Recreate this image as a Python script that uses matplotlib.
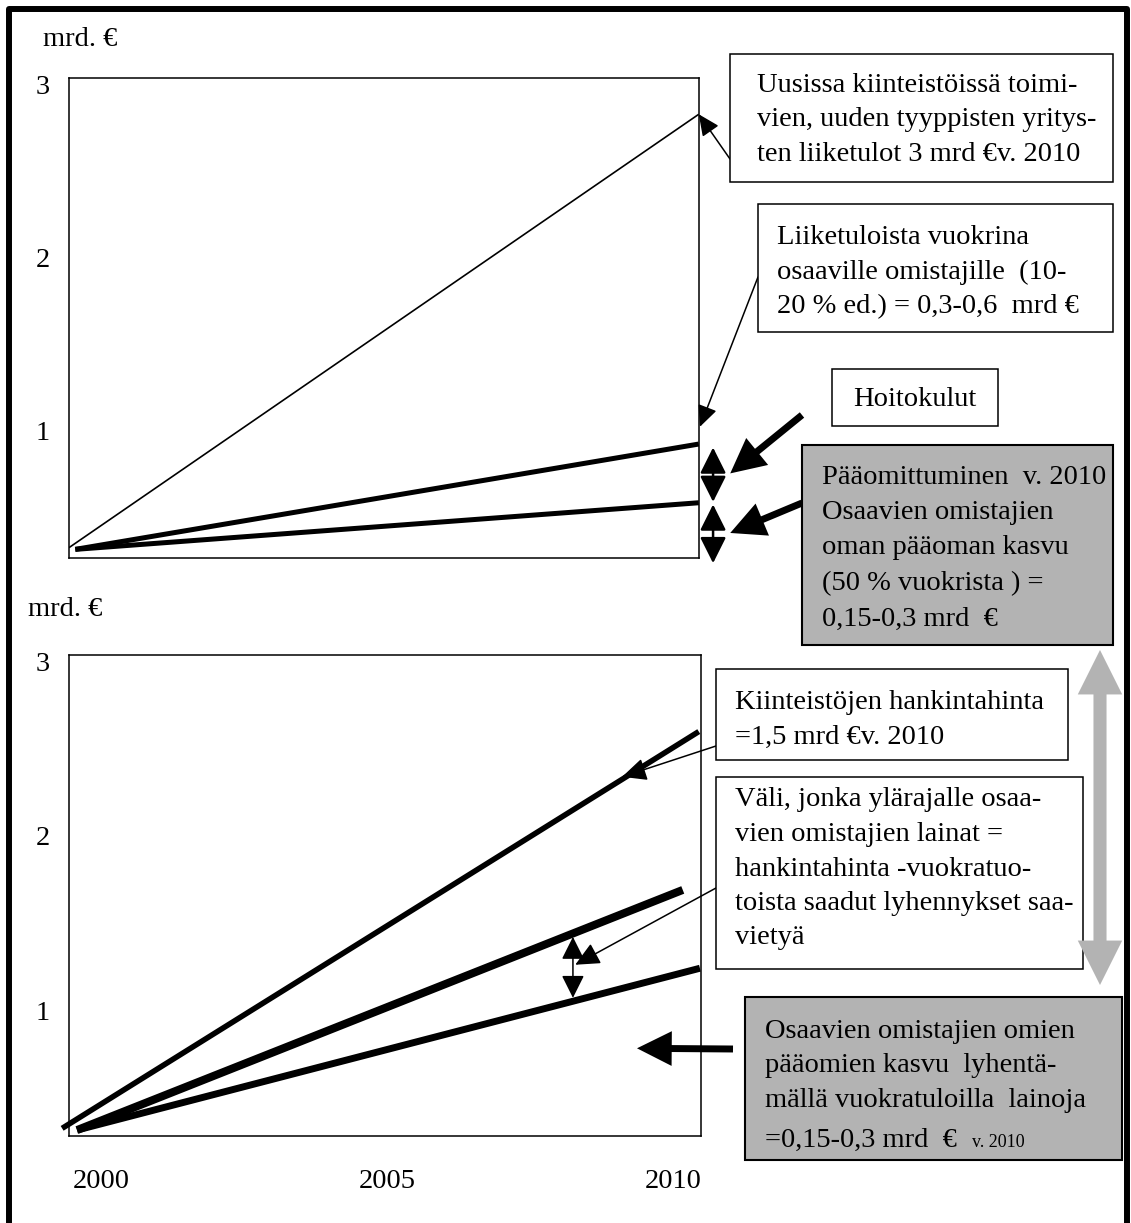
"""
Osaavien omistajien liiketulot, vuokrat ja pääoman kasvu 2000-2010.
Two stacked panels with boxed notes and arrows.
"""
import matplotlib
matplotlib.use('Agg')
import matplotlib.pyplot as plt
from matplotlib.patches import Rectangle, FancyArrowPatch
from matplotlib.lines import Line2D

plt.rcParams['font.family'] = ['Liberation Serif', 'DejaVu Serif']

W, H = 1131, 1223

# --- data (mrd. €) ---
years_top = [1999.44, 2010.45]
years_top_thick = [1999.55, 2010.45]
liiketulot = [0.32, 2.83]
vuokrat = [0.31, 0.92]
paaomitus = [0.31, 0.58]

years_hankinta = [1999.32, 2010.45]
hankintahinta = [0.32, 2.60]
years_laina = [1999.58, 2010.17]
laina_yla = [0.31, 1.69]
years_lyhennys = [1999.58, 2010.47]
laina_ala = [0.31, 1.24]

y_ticks = [1, 2, 3]
x_ticks = [2000, 2005, 2010]

FS = 20.5


def px(x, y):
    return (x / W, 1 - y / H)


def make_ax(top, bottom, right, ylo):
    ax = fig.add_axes([69 / W, 1 - bottom / H, (right - 69) / W, (bottom - top) / H])
    ax.set_xlim(1999.44, 1999.44 + (right - 69) / 57.2)
    ax.set_ylim(ylo, 3.04)
    ax.set_yticks(y_ticks)
    ax.set_yticklabels([str(t) for t in y_ticks])
    ax.tick_params(length=0, labelsize=FS, pad=14)
    for s in ax.spines.values():
        s.set_linewidth(1.1)
    return ax


def box(x0, y0, x1, y1, fc='white', lw=1.1):
    fig.add_artist(Rectangle(px(x0, y1), (x1 - x0) / W, (y1 - y0) / H,
                             transform=fig.transFigure, fc=fc, ec='black', lw=lw))


def note(x, y, s, fontsize=FS, ha='left', va='center', spacing=1.5):
    fig.text(x / W, 1 - y / H, s, fontsize=fontsize, ha=ha, va=va, linespacing=spacing)


def pointer(ax, xy, start, style, lw):
    ax.annotate('', xy=xy, xycoords='data', xytext=px(*start), textcoords='figure fraction',
                arrowprops=dict(arrowstyle=style, mutation_scale=1, lw=lw, color='black',
                                shrinkA=0, shrinkB=0),
                annotation_clip=False)


def fat_arrow(ax, xy, start):
    ax.annotate('', xy=xy, xycoords='data', xytext=px(*start), textcoords='figure fraction',
                arrowprops=dict(arrowstyle='simple,head_length=25,head_width=25,tail_width=5',
                                mutation_scale=1, lw=0, color='black', shrinkA=0, shrinkB=0),
                annotation_clip=False)


def span(ax, x, ya, yb, hl, hw, lw):
    ax.annotate('', xy=(x, ya), xytext=(x, yb),
                arrowprops=dict(arrowstyle=f'<|-|>,head_length={hl},head_width={hw}',
                                mutation_scale=1, lw=lw, color='black', shrinkA=0, shrinkB=0),
                annotation_clip=False)


fig = plt.figure(figsize=(W / 100, H / 100), dpi=100)

# --- top panel ---
ax1 = make_ax(78, 558, 699, 0.26)
ax1.set_xticks([])
ax1.plot(years_top, liiketulot, color='black', lw=1.2, solid_capstyle='butt')
ax1.plot(years_top_thick, vuokrat, color='black', lw=3.6, solid_capstyle='butt')
ax1.plot(years_top_thick, paaomitus, color='black', lw=3.6, solid_capstyle='butt')

span(ax1, 2010.70, 0.90, 0.585, 16, 8, 1.8)
span(ax1, 2010.70, 0.57, 0.23, 16, 8, 1.8)

# --- bottom panel ---
ax2 = make_ax(655, 1136, 701, 0.276)
ax2.set_xticks(x_ticks)
ax2.set_xticklabels([str(t) for t in x_ticks])
ax2.tick_params(axis='x', pad=24)
ax2.plot(years_hankinta, hankintahinta, color='black', lw=4, solid_capstyle='butt', clip_on=False)
ax2.plot(years_laina, laina_yla, color='black', lw=5.8, solid_capstyle='butt', clip_on=False)
ax2.plot(years_lyhennys, laina_ala, color='black', lw=5, solid_capstyle='butt', clip_on=False)

span(ax2, 2008.25, 1.42, 1.07, 14, 7, 1.1)

# axis unit labels
note(43, 40, 'mrd. €')
note(28, 610, 'mrd. €')

# --- boxes and notes ---
box(730, 54, 1113, 182)
note(757, 120, 'Uusissa kiinteistöissä toimi-\nvien, uuden tyyppisten yritys-\nten liiketulot 3 mrd €v. 2010')
pointer(ax1, (2010.45, 2.83), (730, 159), '-|>,head_length=13,head_width=6', 1.1)

box(758, 204, 1113, 332)
note(777, 272, 'Liiketuloista vuokrina\nosaaville omistajille  (10-\n20 % ed.) = 0,3-0,6  mrd €')
pointer(ax1, (2010.47, 1.02), (758, 277), '-|>,head_length=13,head_width=6', 1.1)

box(832, 369, 998, 426)
note(915, 400, 'Hoitokulut', ha='center')
fat_arrow(ax1, (2011.0, 0.75), (802, 415))

box(802, 445, 1113, 645, fc='#b3b3b3', lw=1.5)
note(822, 548, 'Pääomittuminen  v. 2010\nOsaavien omistajien\noman pääoman kasvu\n(50 % vuokrista ) =\n0,15-0,3 mrd  €',
     spacing=1.55)
fat_arrow(ax1, (2011.0, 0.405), (802, 503))

box(716, 669, 1068, 760)
note(735, 720, 'Kiinteistöjen hankintahinta\n=1,5 mrd €v. 2010')
pointer(ax2, (2009.11, 2.34), (716, 746), '-|>,head_length=15,head_width=7', 1.1)

box(716, 777, 1083, 969)
note(735, 869, 'Väli, jonka ylärajalle osaa-\nvien omistajien lainat =\nhankintahinta -vuokratuo-\ntoista saadut lyhennykset saa-\nvietyä')
pointer(ax2, (2008.29, 1.26), (716, 888), '-|>,head_length=15,head_width=7', 1.1)

box(745, 997, 1122, 1160, fc='#b3b3b3', lw=1.5)
note(765, 1066, 'Osaavien omistajien omien\npääomien kasvu  lyhentä-\nmällä vuokratuloilla  lainoja')
note(765, 1147, '=0,15-0,3 mrd  €', va='baseline')
note(972, 1147, 'v. 2010', fontsize=13, va='baseline')
fat_arrow(ax2, (2009.37, 0.78), (733, 1049))

# grey double arrow between the two grey boxes
for end in (650, 985):
    fig.add_artist(FancyArrowPatch(px(1100, 818), px(1100, end), transform=fig.transFigure,
                                   arrowstyle='simple,head_length=32,head_width=32,tail_width=9.4',
                                   mutation_scale=1, lw=0, color='#b3b3b3',
                                   shrinkA=0, shrinkB=0))

# frame around the whole picture
fig.add_artist(Line2D([9 / W, 9 / W, 1127 / W, 1127 / W], [0, 1 - 9 / H, 1 - 9 / H, 0],
                      transform=fig.transFigure, color='black', lw=4.3))

fig.savefig('out.png', dpi=100)
